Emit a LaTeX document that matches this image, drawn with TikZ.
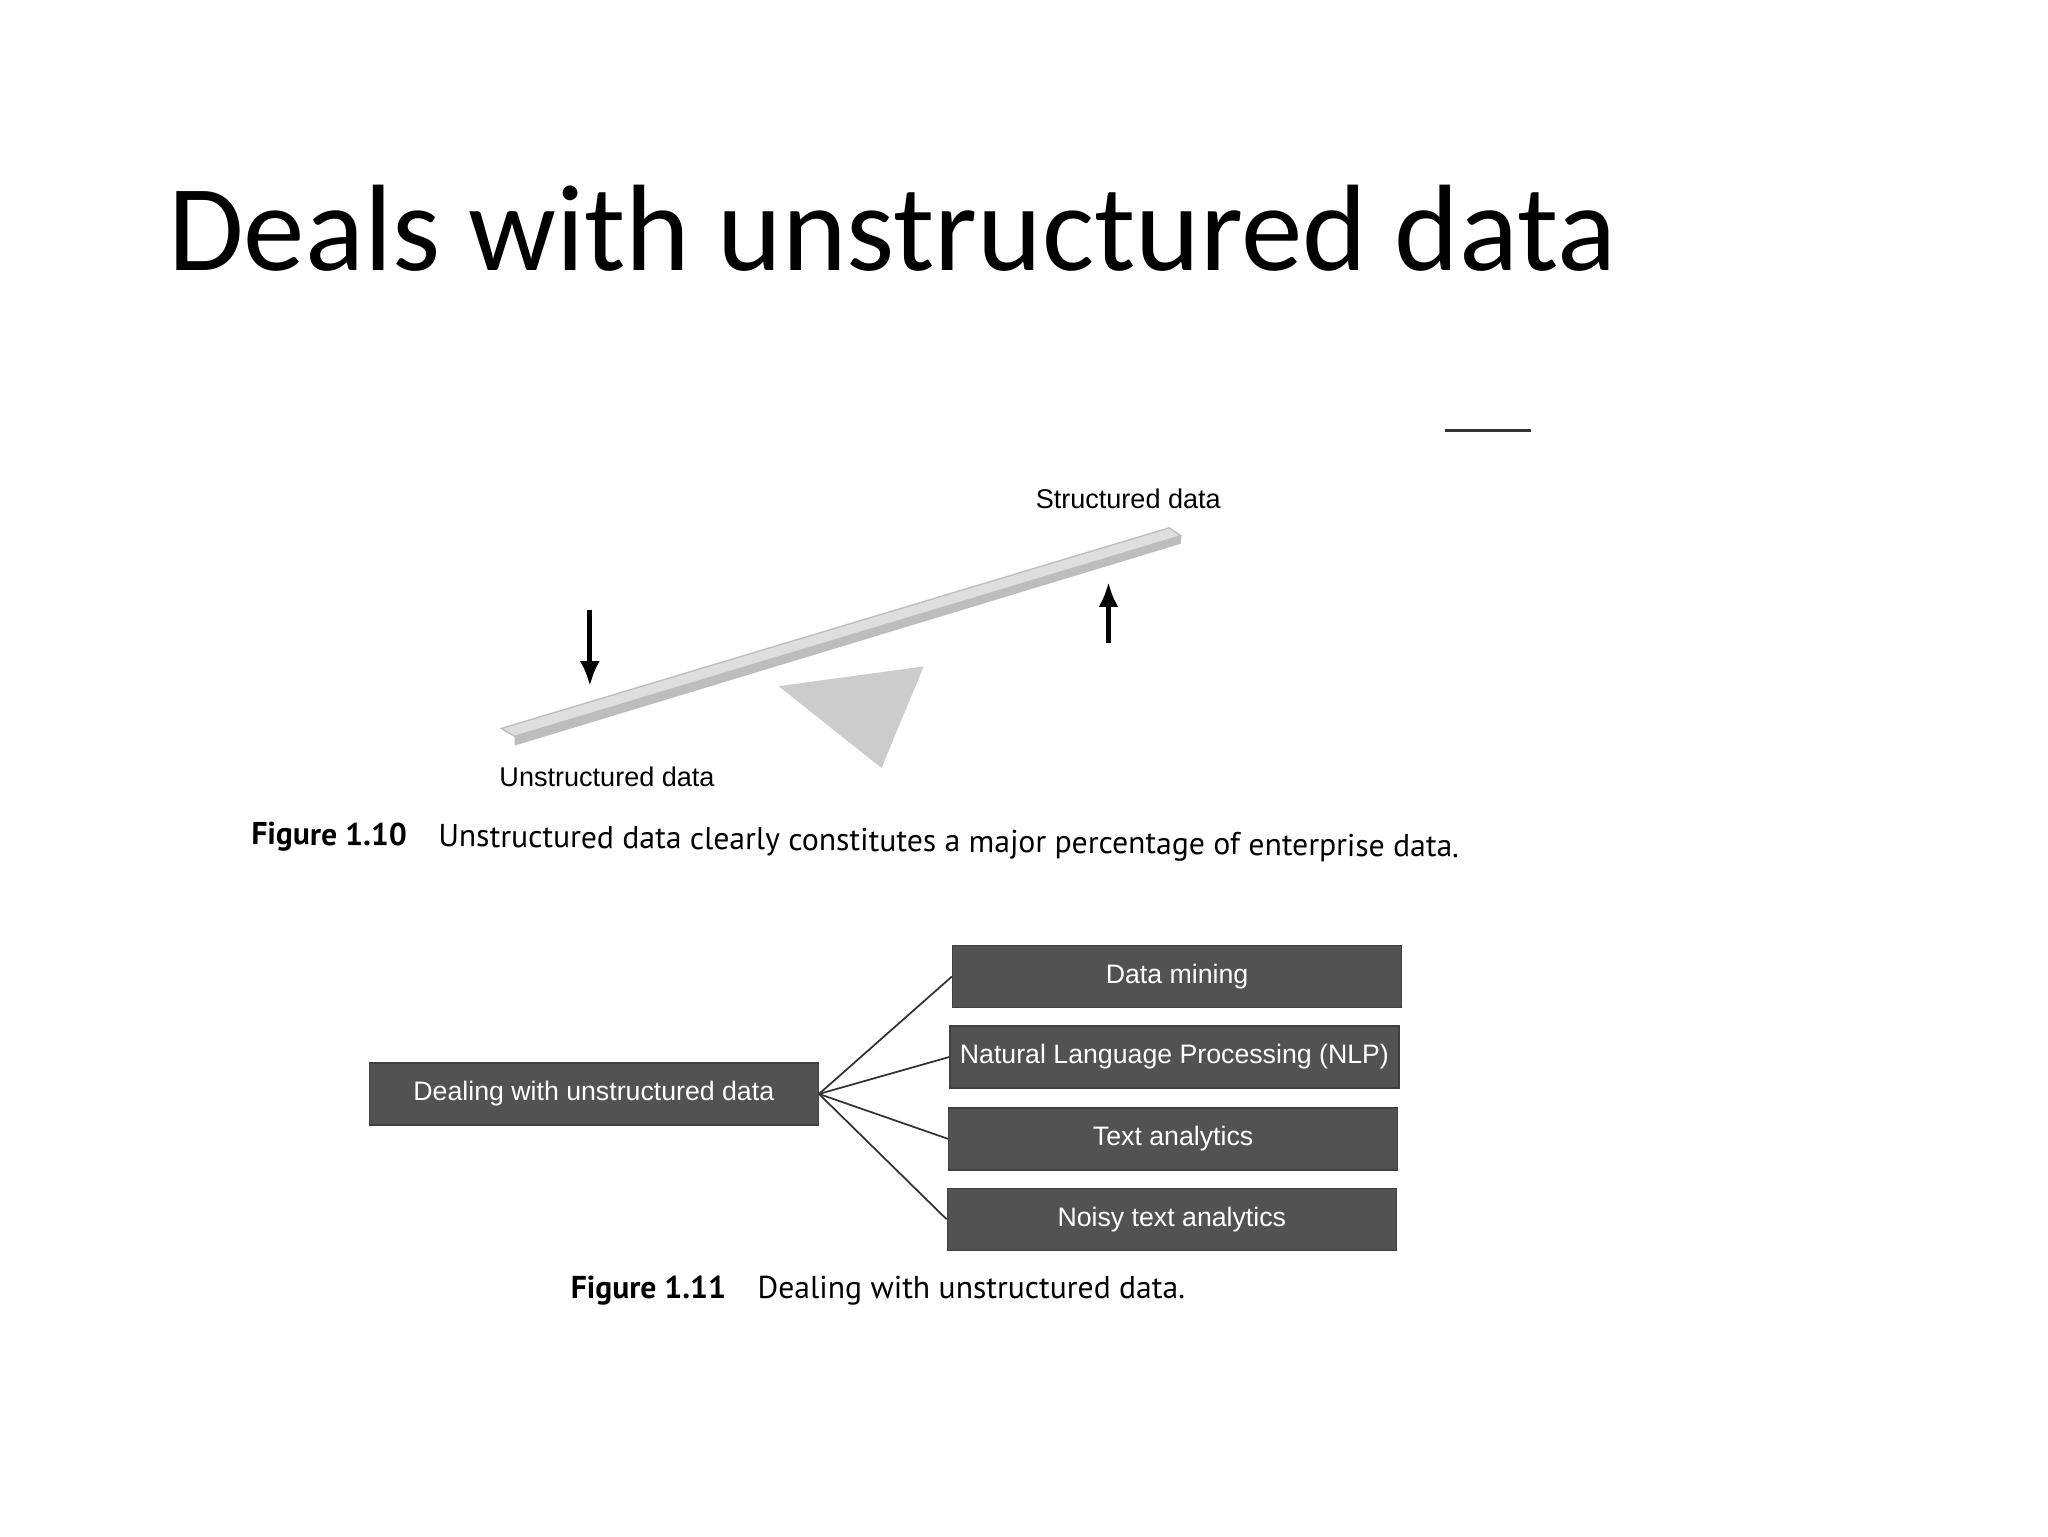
\documentclass[tikz,border=0pt]{standalone}
\usepackage{fontspec}
\usetikzlibrary{arrows.meta}
\setmainfont{Carlito}
\newfontfamily\labfont{Liberation Sans}
\newfontfamily\capfont{PT Sans}
\begin{document}
\begin{tikzpicture}[x=0.013196cm,y=-0.013196cm,
  dbox/.style={fill=black!68,draw=black!75,text=white,font=\labfont\fontsize{7.6}{9}\selectfont,minimum width=4.49cm,minimum height=0.62cm,inner sep=1pt},
  conn/.style={draw=black!80,line width=0.5pt},
  arr/.style={-{Latex[length=2.5mm,width=2mm]},line width=1.4pt}]
\useasboundingbox (0,0) rectangle (1552,1164);
\node[anchor=base west,font=\fontsize{35}{42}\selectfont,inner sep=0] (title) at (127,205) {Deals with unstructured data};
\draw[black!80,line width=0.8pt] (1095,326) -- (1160,326);
% seesaw
\fill[black!20] (590,520) -- (700,505) -- (668,582) -- cycle;
\fill[black!13,draw=black!25] (380,552) -- (886,400) -- (895,406) -- (390,558) -- cycle;
\fill[black!26] (390,558) -- (895,406) -- (895,412) -- (390,565) -- cycle;
\coordinate (d1) at (447,462); \coordinate (d2) at (447,520);
\coordinate (u1) at (840,487); \coordinate (u2) at (840,441);
\draw[arr] (d1) -- (d2);
\draw[arr] (u1) -- (u2);
\node[font=\labfont\fontsize{7.7}{9}\selectfont] (sd) at (855,378) {Structured data};
\node[font=\labfont\fontsize{7.7}{9}\selectfont] (ud) at (460,589) {Unstructured data};
\node[anchor=base west,font=\capfont\fontsize{9}{11}\selectfont,inner sep=0,rotate=-0.6] (c1) at (190,640) {\textbf{Figure 1.10}\quad Unstructured data clearly constitutes a major percentage of enterprise data.};
% boxes
\node[dbox] (L) at (450,829) {Dealing with unstructured data};
\node[dbox] (b1) at (892,740) {Data mining};
\node[dbox] (b2) at (890,801) {Natural Language Processing (NLP)};
\node[dbox] (b3) at (889,863) {Text analytics};
\node[dbox] (b4) at (888,924) {Noisy text analytics};
\foreach \b in {b1,b2,b3,b4}{\draw[conn] (L.east) -- (\b.west);}
\node[anchor=base west,font=\capfont\fontsize{9}{11}\selectfont,inner sep=0] (c2) at (432,984) {\textbf{Figure 1.11}\quad Dealing with unstructured data.};
\end{tikzpicture}
\end{document}
